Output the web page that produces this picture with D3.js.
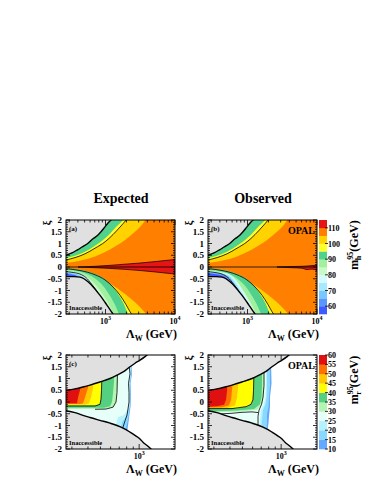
<!DOCTYPE html>
<html><head><meta charset="utf-8">
<script src="https://cdn.jsdelivr.net/npm/d3@7"></script>
<style>body{margin:0;background:#fff}svg{display:block}</style>
</head><body>
<svg id="c" width="374" height="484"></svg>
<script>
// ---------------- DATA ----------------
// colour bands, m_h (top) and m_r (bottom), band lower edges in GeV
const topLevels = [55,60,65,70,75,80,85,90,95,100,105,110,115];
const topColors = ["#3c5aff","#5a96ff","#78c8ff","#a5e8ff","#d2faff","#c8fac8","#a0f0a0","#50d28c","#ffff28","#ffd200","#ff8000","#e61414"];
const topTickVals = [60,70,80,90,100,110];
const botLevels = [10,15,20,25,30,35,40,45,50,55,60];
const botColors = ["#64a8ff","#88d8ff","#b4f2ff","#e6fff8","#b4f5b4","#55cf80","#ffff00","#ffc800","#ff7000","#e01010"];
const botTickVals = [10,15,20,25,30,35,40,45,50,55,60];
const yTickVals = [2,1.5,1,0.5,0,-0.5,-1,-1.5,-2];
const yTickLabels = ["2","1.5","1","0.5","0","-0.5","-1","-1.5","-2"];
const xTopDomain = [270,10000];
const xBotDomain = [270,1900];
const xTopMajor = [1000,10000];
const xTopMajorExp = ["3","4"];
const xBotMajor = [1000];
const xBotMajorExp = ["3"];
const titles = ["Expected","Observed"];

// ---- top panels: contours [Lambda_W (GeV), xi] ----
const aUpGray = [[270,0.5],[329,0.6],[389,0.72],[459,0.85],[560,1.01],[661,1.2],[780,1.36],[861,1.5],[983,1.71],[1086,1.87],[1240,2.05],[1513,2.5]];
const aUp95  = [[270,0.38],[364,0.48],[507,0.65],[706,0.9],[920,1.15],[1160,1.42],[1416,1.7],[1785,2.0],[2107,2.3]];
const aUp100 = [[270,0.3],[364,0.4],[507,0.56],[706,0.8],[983,1.07],[1282,1.38],[1616,1.7],[2039,2.05],[2327,2.3]];
const aUp105 = [[270,0.17],[429,0.27],[706,0.45],[1160,0.75],[1908,1.15],[2657,1.5],[3352,1.8],[3825,2.05],[4368,2.3]];

const aLoGray = [[270,-0.41],[352,-0.41],[429,-0.43],[490,-0.5],[560,-0.63],[661,-0.84],[754,-1.05],[861,-1.26],[983,-1.5],[1086,-1.69],[1200,-1.88],[1282,-2.0],[1464,-2.3]];
const aLo105 = [[270,-0.1],[429,-0.2],[706,-0.38],[1160,-0.7],[1908,-1.15],[2657,-1.5],[3352,-1.8],[3955,-2.05],[4515,-2.3]];
const aLo100 = [[270,-0.07],[429,-0.15],[706,-0.33],[983,-0.55],[1282,-0.85],[1616,-1.2],[1972,-1.6],[2251,-1.9],[2487,-2.1],[2747,-2.3]];
const aLo95  = [[270,-0.05],[429,-0.12],[706,-0.3],[983,-0.52],[1240,-0.8],[1513,-1.15],[1785,-1.5],[2107,-2.0],[2327,-2.3]];
const aLo90  = [[270,-0.12],[402,-0.18],[560,-0.32],[754,-0.55],[983,-0.9],[1200,-1.3],[1416,-1.7],[1564,-2.0],[1727,-2.3]];
const aLo85  = [[270,-0.18],[376,-0.22],[490,-0.33],[639,-0.6],[833,-1.0],[1051,-1.45],[1240,-1.85],[1325,-2.0],[1464,-2.3]];
const aLo80  = [[270,-0.2],[352,-0.24],[429,-0.3],[524,-0.45],[639,-0.75],[833,-1.25],[1160,-2.3]];
const aLo75  = [[270,-0.22],[329,-0.25],[402,-0.3],[490,-0.42],[598,-0.7],[833,-1.4],[1086,-2.3]];
const aLo70  = [[270,-0.24],[329,-0.27],[389,-0.32],[459,-0.45],[560,-0.72],[780,-1.5],[983,-2.3]];
const aLo65  = [[270,-0.27],[319,-0.3],[376,-0.36],[429,-0.48],[524,-0.8],[730,-1.6],[890,-2.3]];
const aLo60  = [[270,-0.3],[329,-0.33],[402,-0.4],[459,-0.5],[524,-0.7],[706,-1.5],[833,-2.3]];
// red wedge (m_h > 110): [Lambda, xi_low, xi_high]
const aRed = [[402,0,0],[706,-0.03,0.03],[1160,-0.06,0.07],[1908,-0.1,0.12],[3137,-0.15,0.17],[5157,-0.21,0.23],[10000,-0.3,0.32]];

const bLo85 = [[270,-0.17],[490,-0.26],[661,-0.5],[833,-0.9],[1051,-1.4],[1282,-1.9],[1416,-2.3]];
const bLo80 = [[270,-0.19],[459,-0.26],[618,-0.44],[754,-0.78],[890,-1.1],[1160,-1.75],[1416,-2.3]];
const bLo75 = [[270,-0.21],[429,-0.27],[579,-0.43],[706,-0.75],[833,-1.1],[1086,-1.7],[1325,-2.3]];
const bLo70 = [[270,-0.23],[402,-0.28],[542,-0.42],[639,-0.68],[754,-1.0],[1017,-1.6],[1240,-2.3]];
const bLo65 = [[270,-0.25],[376,-0.3],[490,-0.4],[579,-0.6],[683,-0.9],[951,-1.6],[1160,-2.3]];
const bLo60 = [[270,-0.27],[364,-0.32],[459,-0.42],[524,-0.55],[598,-0.75],[833,-1.5],[1017,-2.3]];
const bRed = [[2657,-0.005,0.005],[4368,-0.03,0.02],[6086,-0.05,0.03],[7181,-0.11,0.04],[8477,-0.09,0.06],[10000,-0.15,0.08]];

// ---- bottom panels ----
const cGrayTop = [[270,0.5],[317,0.56],[366,0.64],[415,0.72],[496,0.85],[594,1.0],[673,1.14],[763,1.3],[849,1.5],[929,1.65],[1016,1.78],[1111,1.93],[1152,2.0],[1259,2.25]];
const cGrayBot = [[270,-0.37],[317,-0.45],[366,-0.57],[415,-0.66],[496,-0.78],[594,-0.9],[673,-1.0],[763,-1.13],[849,-1.28],[929,-1.42],[1016,-1.57],[1072,-1.71],[1152,-1.85],[1237,-2.0],[1329,-2.2]];
// regions m_r >= level (closed polygons)
const c10 = [[270,1.8],[865,1.8],[880,1.2],[857,0.8],[865,0.3],[857,-0.2],[842,-0.5],[834,-0.7],[805,-1.3],[270,-1.3]];
const c15 = [[270,1.8],[857,1.8],[873,1.2],[849,0.8],[857,0.3],[849,-0.2],[834,-0.5],[819,-0.75],[777,-1.3],[270,-1.3]];
const c20 = [[270,1.8],[849,1.8],[865,1.2],[842,0.8],[849,0.3],[842,-0.2],[819,-0.45],[791,-0.65],[736,-0.85],[710,-1.3],[270,-1.3]];
const c25 = [[270,1.8],[834,1.8],[849,1.2],[827,0.8],[834,0.4],[834,0],[819,-0.3],[763,-0.55],[685,-0.65],[638,-1.3],[270,-1.3]];
const c30 = [[270,1.6],[685,1.6],[685,0.9],[673,0.4],[661,0],[627,-0.22],[553,-0.3],[270,-0.3]];
const c35 = [[270,1.5],[638,1.5],[638,0.9],[627,0.4],[615,0],[594,-0.18],[533,-0.24],[270,-0.24]];
const c40 = [[270,1.4],[514,1.4],[510,0.7],[505,0.2],[496,-0.08],[462,-0.15],[270,-0.15]];
const c45 = [[270,1.3],[446,1.3],[438,0.6],[423,0.2],[408,-0.05],[380,-0.11],[270,-0.11]];
const c50 = [[270,1.2],[408,1.2],[400,0.6],[380,0.2],[366,-0.05],[347,-0.08],[270,-0.08]];
const c55 = [[270,1.0],[353,1.0],[347,0.5],[335,0.2],[329,-0.05],[270,-0.05]];
const cLim1 = [[514,1.2],[510,0.5],[505,0.1],[496,-0.1],[454,-0.17],[270,-0.17]];
const cLim2 = [[679,1.4],[673,0.4],[661,0],[627,-0.22],[553,-0.3],[454,-0.31]];
const cLim3 = [[834,1.6],[849,1.2],[827,0.8],[834,0.4],[834,0],[819,-0.3],[805,-0.55],[777,-0.8],[736,-1.2]];

const d10 = [[270,1.7],[834,1.7],[842,0.8],[819,0.2],[819,-0.2],[805,-0.6],[798,-0.9],[777,-1.3],[270,-1.3]];
const d15 = [[270,1.7],[819,1.7],[819,0.7],[805,0.2],[798,-0.2],[777,-0.5],[777,-0.9],[763,-1.3],[270,-1.3]];
const d20 = [[270,1.6],[777,1.6],[777,0.7],[770,0.2],[756,-0.1],[723,-0.35],[710,-0.8],[697,-1.3],[270,-1.3]];
const d25 = [[270,1.6],[763,1.6],[763,0.7],[756,0.2],[736,-0.1],[697,-0.35],[685,-0.8],[673,-1.3],[270,-1.3]];
const d30 = [[270,1.5],[736,1.5],[736,0.7],[729,0.2],[710,-0.1],[649,-0.33],[496,-0.4],[270,-0.45]];
const d35 = [[270,1.4],[710,1.4],[710,0.7],[704,0.2],[685,-0.1],[615,-0.3],[454,-0.36],[270,-0.4]];
const d40 = [[270,1.3],[615,1.3],[610,0.6],[604,0.2],[594,-0.05],[553,-0.18],[454,-0.27],[270,-0.28]];
const d45 = [[270,1.2],[470,1.2],[462,0.6],[454,0.2],[438,-0.15],[380,-0.25],[270,-0.26]];
const d50 = [[270,1.1],[423,1.1],[415,0.5],[408,0.1],[393,-0.15],[347,-0.22],[270,-0.23]];
const d55 = [[270,1.0],[380,1.0],[380,0.5],[373,0.1],[360,-0.12],[317,-0.18],[270,-0.2]];
const dLim1 = [[615,1.3],[610,0.5],[604,0.1],[583,-0.1],[533,-0.2],[415,-0.28],[270,-0.28]];
const dLim2 = [[736,1.6],[736,0.7],[723,0.2],[704,-0.1],[673,-0.35],[661,-0.6],[661,-0.9],[655,-1.3]];
const dLim3 = [[300,-0.52],[415,-0.48],[496,-0.44],[594,-0.42],[661,-0.45]];

// ---------------- DRAW ----------------
const FONT = "'Liberation Serif','Times New Roman',serif";
const svg = d3.select("#c");
const GRAY = "#e0e0e0";
const topCol = v => topColors[topLevels.indexOf(v)];
const botCol = v => botColors[botLevels.indexOf(v)];

let clipId = 0;
function panel(px0, px1, py0, py1, xDomain) {
  const x = d3.scaleLog().domain(xDomain).range([px0, px1]);
  const y = d3.scaleLinear().domain([-2, 2]).range([py1, py0]);
  const id = "clip" + (clipId++);
  svg.append("clipPath").attr("id", id).append("rect")
    .attr("x", px0).attr("y", py0).attr("width", px1 - px0).attr("height", py1 - py0);
  const g = svg.append("g").attr("clip-path", `url(#${id})`);
  return {x, y, g};
}
function areaAbove(P, data, color) {
  P.g.append("path").datum(data).attr("fill", color)
    .attr("d", d3.area().x(d => P.x(d[0])).y0(P.y(3)).y1(d => P.y(d[1])).curve(d3.curveMonotoneX));
}
function areaBelow(P, data, color) {
  P.g.append("path").datum(data).attr("fill", color)
    .attr("d", d3.area().x(d => P.x(d[0])).y0(P.y(-3)).y1(d => P.y(d[1])).curve(d3.curveMonotoneX));
}
function line(P, data, w, curve) {
  P.g.append("path").datum(data).attr("fill", "none").attr("stroke", "#000").attr("stroke-width", w)
    .attr("d", d3.line().x(d => P.x(d[0])).y(d => P.y(d[1])).curve(curve || d3.curveMonotoneX));
}
function poly(P, data, color) {
  P.g.append("path").datum(data).attr("fill", color)
    .attr("d", d3.line().x(d => P.x(d[0])).y(d => P.y(d[1])).curve(d3.curveLinearClosed));
}
function frame(P, px0, px1, py0, py1, majors, exps) {
  const a = svg.append("g").attr("stroke", "#000").attr("stroke-width", 0.8);
  for (let i = -20; i <= 20; i++) {
    const v = i / 10, yy = P.y(v), L = (i % 5 === 0) ? 4 : 2;
    a.append("line").attr("x1", px0).attr("x2", px0 + L).attr("y1", yy).attr("y2", yy);
    a.append("line").attr("x1", px1).attr("x2", px1 - L).attr("y1", yy).attr("y2", yy);
  }
  const dom = P.x.domain();
  for (let e = 2; e <= 4; e++) for (let m = 1; m <= 9; m++) {
    const v = m * Math.pow(10, e);
    if (v < dom[0] || v > dom[1]) continue;
    const xx = P.x(v), L = m === 1 ? 5 : 2.5;
    a.append("line").attr("x1", xx).attr("x2", xx).attr("y1", py1).attr("y2", py1 - L);
    a.append("line").attr("x1", xx).attr("x2", xx).attr("y1", py0).attr("y2", py0 + L);
  }
  svg.append("rect").attr("x", px0).attr("y", py0).attr("width", px1 - px0).attr("height", py1 - py0)
    .attr("fill", "none").attr("stroke", "#000").attr("stroke-width", 1);
  yTickVals.forEach((v, i) => {
    svg.append("text").attr("x", px0 - 4).attr("y", P.y(v) + 3).attr("text-anchor", "end")
      .attr("font-family", FONT).attr("font-weight", "bold").attr("font-size", 9).text(yTickLabels[i]);
  });
  svg.append("text").attr("transform", `translate(${px0 - 16},${py0 + 3}) rotate(-90)`)
    .attr("text-anchor", "middle").attr("font-family", FONT).attr("font-weight", "bold")
    .attr("font-size", 11).text("ξ");
  majors.forEach((v, i) => {
    const t = svg.append("text").attr("x", P.x(v)).attr("y", py1 + 10).attr("text-anchor", "middle")
      .attr("font-family", FONT).attr("font-weight", "bold").attr("font-size", 8);
    t.append("tspan").text("10");
    t.append("tspan").attr("dy", -4).attr("font-size", 6).text(exps[i]);
  });
  const t = svg.append("text").attr("x", px1 + 2).attr("y", py1 + 24).attr("text-anchor", "end")
    .attr("font-family", FONT).attr("font-weight", "bold").attr("font-size", 12);
  t.append("tspan").text("Λ");
  t.append("tspan").attr("dy", 3).attr("font-size", 8).text("W");
  t.append("tspan").attr("dy", -3).text(" (GeV)");
}
function txt(xx, yy, s, size, anchor) {
  svg.append("text").attr("x", xx).attr("y", yy).attr("text-anchor", anchor || "start")
    .attr("font-family", FONT).attr("font-weight", "bold").attr("font-size", size).text(s);
}

function topPanel(px0, px1, lower, red, lab, opal) {
  const py0 = 220, py1 = 314;
  const P = panel(px0, px1, py0, py1, xTopDomain);
  P.g.append("rect").attr("x", px0).attr("y", py0).attr("width", px1 - px0).attr("height", py1 - py0).attr("fill", topCol(105));
  [[aUp105, 100], [aUp100, 95], [aUp95, 90]].forEach(([d, c]) => areaAbove(P, d, topCol(c)));
  lower.forEach(([d, c]) => areaBelow(P, d, topCol(c)));
  P.g.append("path").datum(red).attr("fill", topCol(110)).attr("stroke", "#000").attr("stroke-width", 0.7)
    .attr("d", d3.area().x(d => P.x(d[0])).y0(d => P.y(d[1])).y1(d => P.y(d[2])).curve(d3.curveMonotoneX));
  line(P, [[xTopDomain[0], 0], [xTopDomain[1], 0]], 0.8);
  line(P, aUp100, 0.8); line(P, aLo100, 0.8); line(P, aLo80, 0.8);
  areaAbove(P, aUpGray, GRAY); areaBelow(P, aLoGray, GRAY);
  line(P, aUpGray, 1.4); line(P, aLoGray, 1.4);
  frame(P, px0, px1, py0, py1, xTopMajor, xTopMajorExp);
  txt(px0 + 3, py0 + 11, lab, 7);
  txt(px0 + 3, py1 - 4, "Inaccessible", 6.5);
  if (opal) txt(px1 - 2, py0 + 14, "OPAL", 10, "end");
}
function botPanel(px0, px1, polys, lims, lab, opal) {
  const py0 = 355, py1 = 449;
  const P = panel(px0, px1, py0, py1, xBotDomain);
  polys.forEach(([d, c]) => poly(P, d, botCol(c)));
  lims.forEach(d => line(P, d, 0.8, d3.curveLinear));
  areaAbove(P, cGrayTop, GRAY); areaBelow(P, cGrayBot, GRAY);
  line(P, cGrayTop, 1.4); line(P, cGrayBot, 1.4);
  frame(P, px0, px1, py0, py1, xBotMajor, xBotMajorExp);
  if (lab) txt(px0 + 3, py0 + 11, lab, 7);
  txt(px0 + 3, py1 - 4, "Inaccessible", 6.5);
  if (opal) txt(px1 - 2, py0 + 14, "OPAL", 10, "end");
}

const lowerA = [[aLo105,100],[aLo100,95],[aLo95,90],[aLo90,85],[aLo85,80],[aLo80,75],[aLo75,70],[aLo70,65],[aLo65,60],[aLo60,55]];
const lowerB = [[aLo105,100],[aLo100,95],[aLo95,90],[aLo90,85],[bLo85,80],[bLo80,75],[bLo75,70],[bLo70,65],[bLo65,60],[bLo60,55]];
topPanel(66, 175, lowerA, aRed, "(a)", false);
topPanel(208, 317, lowerB, bRed, "(b)", true);
botPanel(66, 175, [[c10,10],[c15,15],[c20,20],[c25,25],[c30,30],[c35,35],[c40,40],[c45,45],[c50,50],[c55,55]], [cLim1,cLim2,cLim3], "(c)", false);
botPanel(208, 317, [[d10,10],[d15,15],[d20,20],[d25,25],[d30,30],[d35,35],[d40,40],[d45,45],[d50,50],[d55,55]], [dLim1,dLim2,dLim3], null, true);

txt(121, 203, titles[0], 14, "middle");
txt(263, 203, titles[1], 14, "middle");

function colorbar(py0, py1, levels, colors, ticks, sub) {
  const s = d3.scaleLinear().domain([levels[0], levels[levels.length - 1]]).range([py1, py0]);
  const g = svg.append("g");
  colors.forEach((c, i) => {
    g.append("rect").attr("x", 319).attr("width", 8).attr("y", s(levels[i + 1]))
      .attr("height", s(levels[i]) - s(levels[i + 1]) + 0.3).attr("fill", c);
  });
  ticks.forEach(v => {
    g.append("line").attr("x1", 325).attr("x2", 328).attr("y1", s(v)).attr("y2", s(v))
      .attr("stroke", "#000").attr("stroke-width", 0.8);
    txt(328, s(v) + 3, String(v), 8);
  });
  const cy = (py0 + py1) / 2 - 22;
  const t = svg.append("text").attr("transform", `translate(358,${cy}) rotate(-90)`)
    .attr("text-anchor", "middle").attr("font-family", FONT).attr("font-weight", "bold").attr("font-size", 12);
  t.append("tspan").text("m");
  t.append("tspan").attr("dy", -5).attr("font-size", 8).text("95");
  t.append("tspan").attr("dx", -8.5).attr("dy", 8).attr("font-size", 8).text(sub);
  t.append("tspan").attr("dx", 4).attr("dy", -3).text("(GeV)");
}
colorbar(220, 314, topLevels, topColors, topTickVals, "h");
colorbar(355, 449, botLevels, botColors, botTickVals, "r");
</script>
</body></html>
